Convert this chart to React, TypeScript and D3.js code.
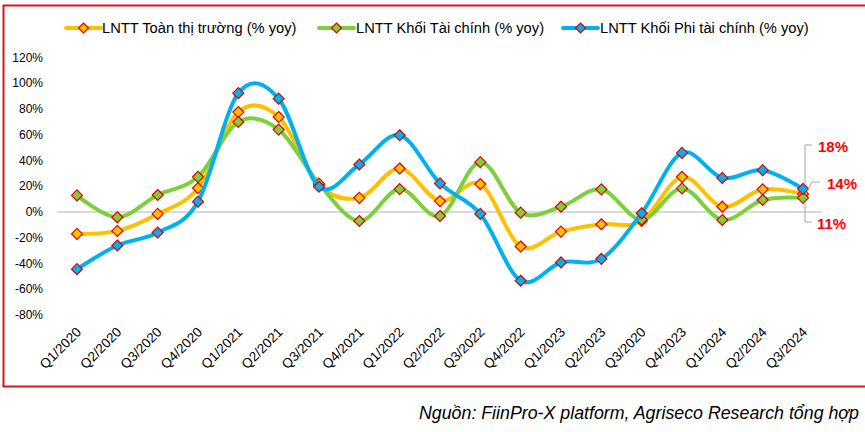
import React from "react";
import * as d3 from "d3";

const categories = ["Q1/2020","Q2/2020","Q3/2020","Q4/2020","Q1/2021","Q2/2021","Q3/2021","Q4/2021","Q1/2022","Q2/2022","Q3/2022","Q4/2022","Q1/2023","Q2/2023","Q3/2020","Q4/2023","Q1/2024","Q2/2024","Q3/2024"];
const toanThiTruong = [-17, -14.7, -1.5, 18.6, 77.6, 73.8, 21, 11, 33.8, 8.5, 21.7, -26.8, -15.2, -9.5, -7, 27.3, 4.1, 17.6, 14];
const khoiTaiChinh = [12.9, -4.1, 13.2, 27.3, 69.9, 64, 22, -7, 17.8, -3.1, 38.7, -0.5, 4.1, 17.6, -6, 18.3, -6.2, 9.3, 11];
const khoiPhiTaiChinh = [-44.4, -26, -16, 8, 92.3, 88, 19.6, 36.9, 59.6, 22.2, -1.5, -53.4, -39.2, -36.4, -1, 45.9, 26.5, 32.5, 18];
const yTicks = [-80, -60, -40, -20, 0, 20, 40, 60, 80, 100, 120];
const seriesNames = ["LNTT Toàn thị trường (% yoy)", "LNTT Khối Tài chính (% yoy)", "LNTT Khối Phi tài chính (% yoy)"];
const lastLabels = ["14%", "11%", "18%"];
const sourceText = "Nguồn: FiinPro-X platform, Agriseco Research tổng hợp";

const colors = ["#FFC000", "#7ED03A", "#00B0F0"];
const markerStroke = "#E00000";
const font = "'Liberation Sans', Arial, sans-serif";

function Diamond({ x, y, r, fill }: { x: number; y: number; r: number; fill: string }) {
  return (
    <path
      d={`M${x},${y - r}L${x + r},${y}L${x},${y + r}L${x - r},${y}Z`}
      fill={fill}
      stroke={markerStroke}
      strokeWidth={1.2}
    />
  );
}

export default function App() {
  const W = 865, H = 432;
  const idx = categories.map((_, i) => i);
  const x = d3.scalePoint<number>().domain(idx).range([77, 803]);
  const y = d3.scaleLinear().domain([-80, 120]).range([315, 57.5]);
  const series = [toanThiTruong, khoiTaiChinh, khoiPhiTaiChinh];
  const line = d3
    .line<number>()
    .x((_, i) => x(i) as number)
    .y((d) => y(d))
    .curve(d3.curveCardinal.tension(0));

  const legendItems = [
    { lx: 66, tx: 102 },
    { lx: 319, tx: 356 },
    { lx: 563, tx: 600 },
  ];
  const last = categories.length - 1;
  const lastX = x(last) as number;
  const lx0 = lastX + 2;

  return (
    <svg width={W} height={H} style={{ position: "absolute", left: 0, top: 0 }}>
      <rect x={0} y={0} width={W} height={H} fill="#fff" />
      <path d={`M${W + 5},5.5H3.5V386.5H${W + 5}`} fill="none" stroke="#D01818" strokeWidth={2} />

      {/* legend */}
      {legendItems.map((it, i) => (
        <g key={i}>
          <line x1={it.lx} x2={it.lx + 35} y1={28} y2={28} stroke={colors[i]} strokeWidth={4} strokeLinecap="round" />
          <Diamond x={it.lx + 17.5} y={28} r={5} fill={colors[i]} />
          <text x={it.tx} y={33} fontFamily={font} fontSize={14.7} fill="#000">{seriesNames[i]}</text>
        </g>
      ))}

      {/* y axis labels */}
      {yTicks.map((t) => (
        <text key={t} x={43} y={y(t) + 4} textAnchor="end" fontFamily={font} fontSize={12} fill="#000">{t}%</text>
      ))}
      <line x1={57} x2={822} y1={y(0)} y2={y(0)} stroke="#D9D9D9" strokeWidth={2} />

      {/* x labels */}
      {categories.map((c, i) => (
        <text
          key={i}
          transform={`translate(${(x(i) as number) + 5},333) rotate(-45)`}
          textAnchor="end"
          fontFamily={font}
          fontSize={13.5}
          fill="#000"
        >
          {c}
        </text>
      ))}

      {/* series */}
      {series.map((s, si) => (
        <g key={si}>
          <path d={line(s) as string} fill="none" stroke={colors[si]} strokeWidth={4} />
          {s.map((v, i) => (
            <Diamond key={i} x={x(i) as number} y={y(v)} r={5.5} fill={colors[si]} />
          ))}
        </g>
      ))}

      {/* annotations */}
      <path d={`M${lx0},${y(khoiPhiTaiChinh[last]) - 5}V145H812`} fill="none" stroke="#A6A6A6" strokeWidth={1} />
      <path d={`M${lx0 + 1},${y(toanThiTruong[last])}L812,182H820`} fill="none" stroke="#A6A6A6" strokeWidth={1} />
      <path d={`M${lx0},${y(khoiTaiChinh[last]) + 5}V222H812`} fill="none" stroke="#A6A6A6" strokeWidth={1} />
      <text x={818} y={152} fontFamily={font} fontSize={15} fontWeight="bold" fill="#FF0000">{lastLabels[2]}</text>
      <text x={827} y={189} fontFamily={font} fontSize={15} fontWeight="bold" fill="#FF0000">{lastLabels[0]}</text>
      <text x={817} y={229} fontFamily={font} fontSize={15} fontWeight="bold" fill="#FF0000">{lastLabels[1]}</text>

      <text x={859} y={419} textAnchor="end" fontFamily={font} fontSize={17.8} fontStyle="italic" fill="#000">{sourceText}</text>
    </svg>
  );
}
